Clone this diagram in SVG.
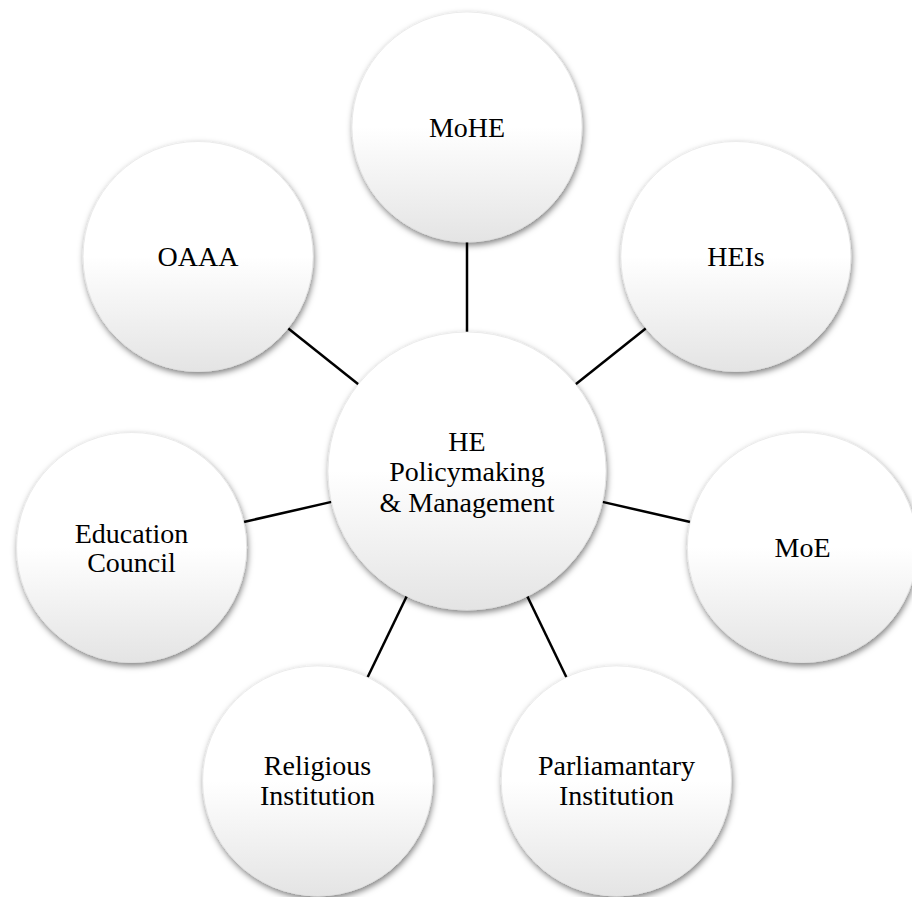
<svg xmlns="http://www.w3.org/2000/svg" width="912" height="897" viewBox="0 0 912 897">
  <defs>
    <linearGradient id="ballFill" x1="0" y1="0" x2="0" y2="1">
      <stop offset="0" stop-color="#ffffff"/>
      <stop offset="0.5" stop-color="#ffffff"/>
      <stop offset="1" stop-color="#e4e4e4"/>
    </linearGradient>
    <filter id="softShadow" x="-20%" y="-20%" width="140%" height="140%">
      <feDropShadow dx="1" dy="3" stdDeviation="3" flood-color="#000000" flood-opacity="0.5"/>
    </filter>
  </defs>
  <style>
    .ball { fill: url(#ballFill); stroke: #e2e2e2; stroke-width: 0.6; filter: url(#softShadow); }
    .label { font-family: "Liberation Serif", "Times New Roman", serif; font-size: 28px; fill: #000000; text-anchor: middle; }
    .link { stroke: #000000; stroke-width: 2.5; fill: none; }
  </style>
  <rect width="912" height="897" fill="#ffffff"/>

  <g id="connectors">
    <line class="link" x1="467" y1="332" x2="467" y2="241"/>
    <line class="link" x1="575.7" y1="384.3" x2="646" y2="328.2"/>
    <line class="link" x1="602.5" y1="501.9" x2="690.3" y2="522"/>
    <line class="link" x1="527.3" y1="596.2" x2="566.4" y2="677.3"/>
    <line class="link" x1="406.7" y1="596.2" x2="367.6" y2="677.3"/>
    <line class="link" x1="331.5" y1="501.9" x2="243.7" y2="522"/>
    <line class="link" x1="358.3" y1="384.3" x2="288" y2="328.2"/>
  </g>

  <g id="node-center">
    <circle class="ball" cx="467" cy="471" r="139"/>
    <text class="label" x="467" y="451">HE</text>
    <text class="label" x="467" y="481">Policymaking</text>
    <text class="label" x="467" y="512">&amp; Management</text>
  </g>

  <g id="node-mohe">
    <circle class="ball" cx="467" cy="127" r="115"/>
    <text class="label" x="467" y="137">MoHE</text>
  </g>

  <g id="node-heis">
    <circle class="ball" cx="735.9" cy="256.5" r="115"/>
    <text class="label" x="736" y="266">HEIs</text>
  </g>

  <g id="node-moe">
    <circle class="ball" cx="802.4" cy="547.5" r="115"/>
    <text class="label" x="802.5" y="557">MoE</text>
  </g>

  <g id="node-parliamentary">
    <circle class="ball" cx="616.3" cy="780.9" r="115"/>
    <text class="label" x="616.5" y="775">Parliamantary</text>
    <text class="label" x="616.5" y="805">Institution</text>
  </g>

  <g id="node-religious">
    <circle class="ball" cx="317.7" cy="780.9" r="115"/>
    <text class="label" x="317.5" y="775">Religious</text>
    <text class="label" x="317.5" y="805">Institution</text>
  </g>

  <g id="node-education-council">
    <circle class="ball" cx="131.6" cy="547.5" r="115"/>
    <text class="label" x="131.5" y="543">Education</text>
    <text class="label" x="131.5" y="572">Council</text>
  </g>

  <g id="node-oaaa">
    <circle class="ball" cx="198.1" cy="256.5" r="115"/>
    <text class="label" x="198" y="266">OAAA</text>
  </g>
</svg>
